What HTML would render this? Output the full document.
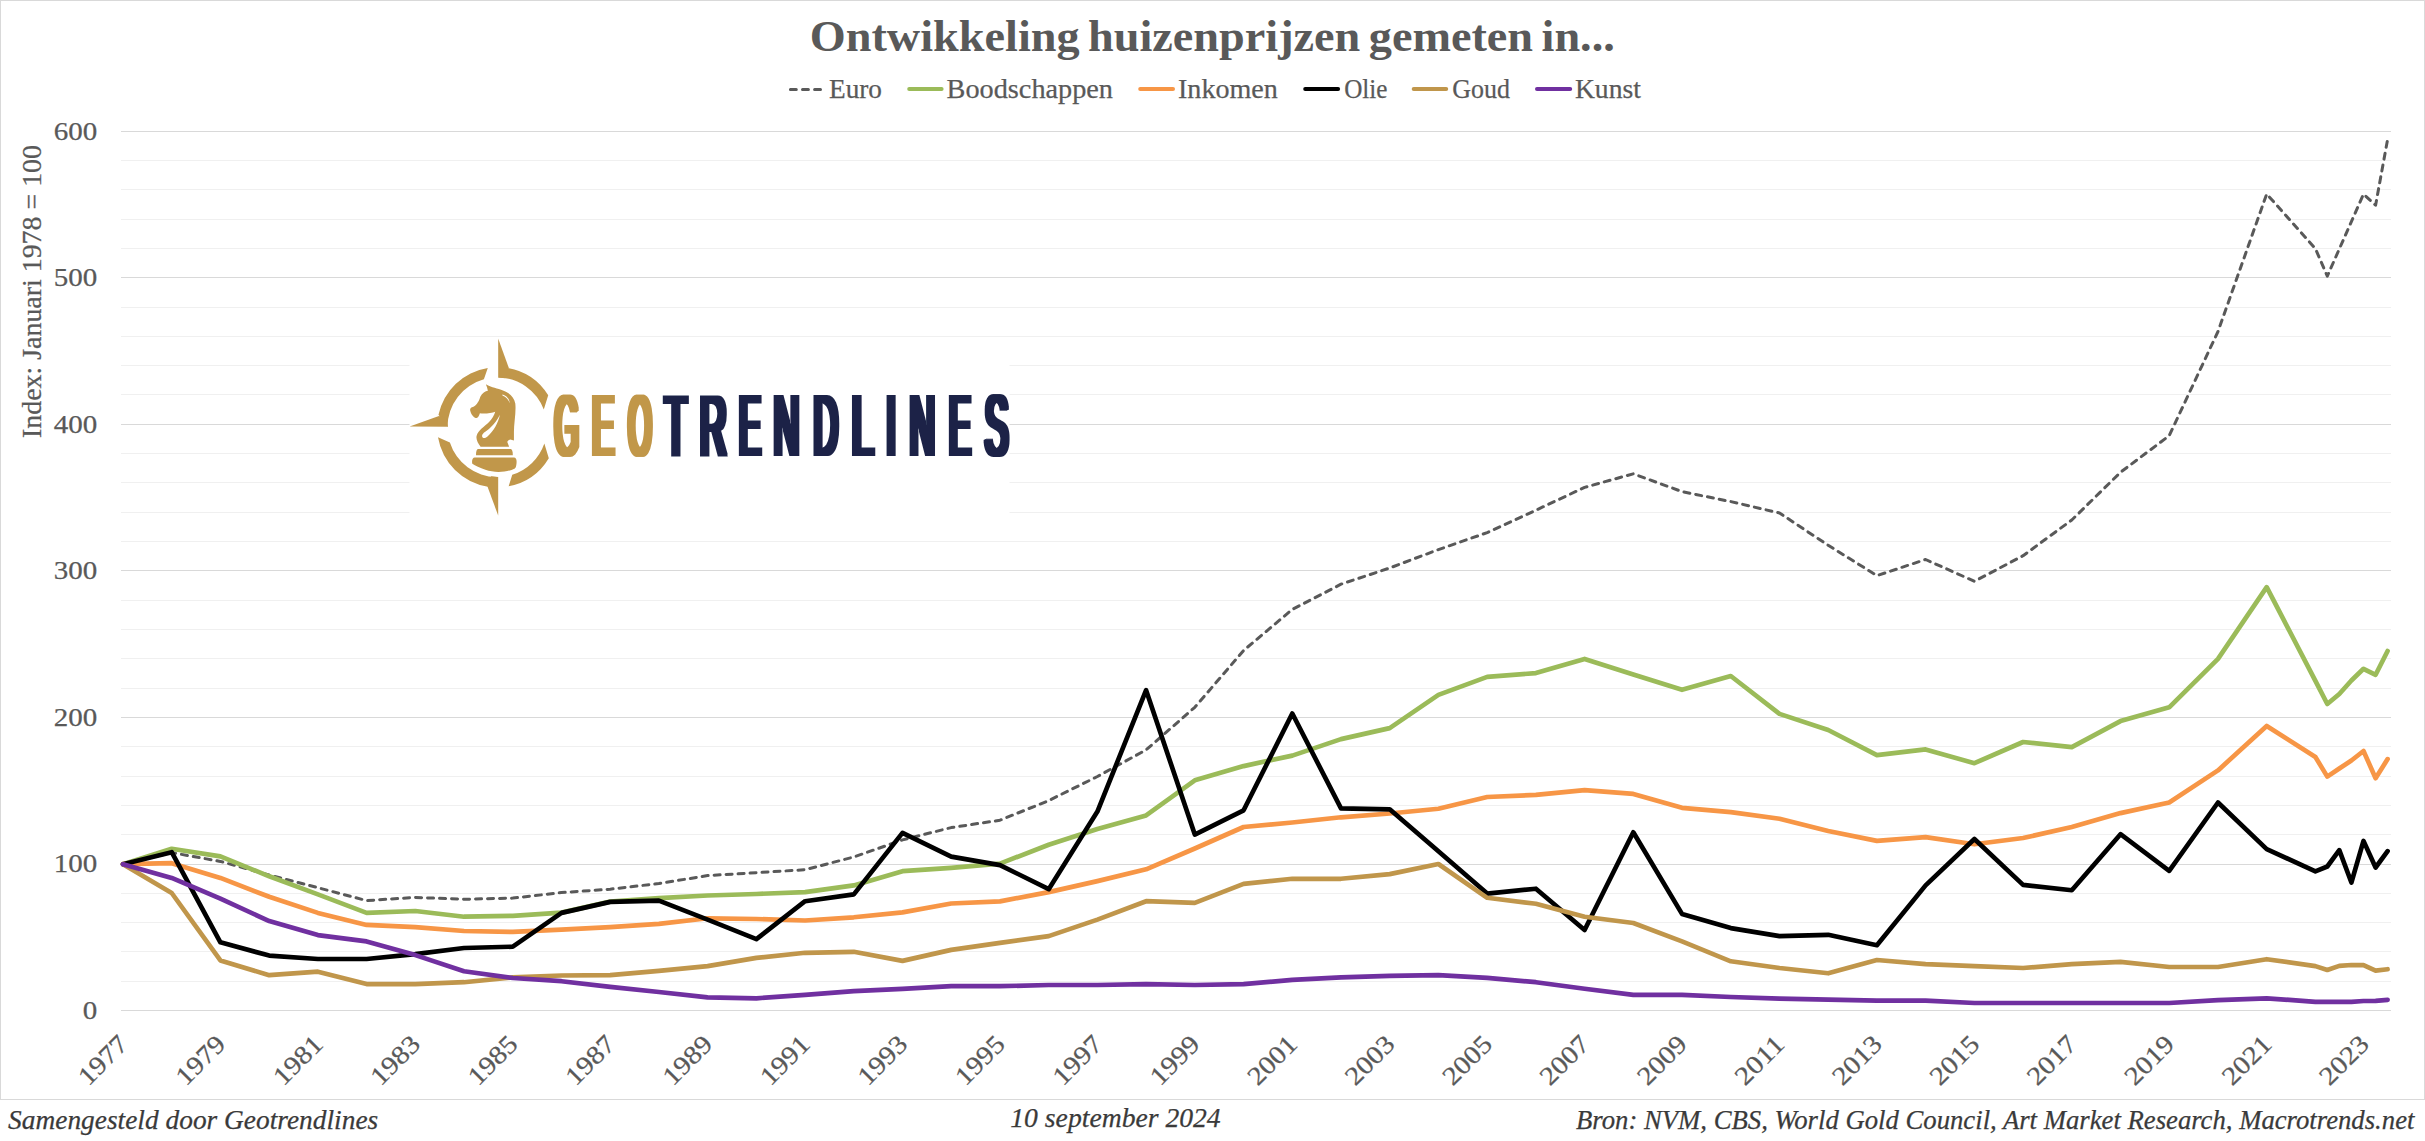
<!DOCTYPE html>
<html lang="nl"><head><meta charset="utf-8"><title>Ontwikkeling huizenprijzen</title>
<style>html,body{margin:0;padding:0;background:#fff}svg{display:block}text{font-family:"Liberation Serif",serif;fill:#595959}.lg,.ax{stroke:#595959;stroke-width:.25px}.ft{stroke:#3A3A3A;stroke-width:.25px}.ln{fill:none;stroke-width:4.67;stroke-linejoin:round;stroke-linecap:round}.ft{font-style:italic;fill:#3A3A3A;font-size:27px}.lg{font-size:27px}.ax{font-size:26px}</style></head><body>
<svg width="2425" height="1141" viewBox="0 0 2425 1141">
<rect x="0" y="0" width="2425" height="1141" fill="#fff"/>
<rect x="0.5" y="0.5" width="2424" height="1099" fill="#fff" stroke="#D9D9D9" stroke-width="1"/>
<g shape-rendering="crispEdges"><line x1="121" x2="2391" y1="1010.5" y2="1010.5" stroke="#D9D9D9" stroke-width="1"/><line x1="121" x2="2391" y1="981.5" y2="981.5" stroke="#F0F0F0" stroke-width="1"/><line x1="121" x2="2391" y1="951.5" y2="951.5" stroke="#F0F0F0" stroke-width="1"/><line x1="121" x2="2391" y1="922.5" y2="922.5" stroke="#F0F0F0" stroke-width="1"/><line x1="121" x2="2391" y1="893.5" y2="893.5" stroke="#F0F0F0" stroke-width="1"/><line x1="121" x2="2391" y1="864.5" y2="864.5" stroke="#D9D9D9" stroke-width="1"/><line x1="121" x2="2391" y1="834.5" y2="834.5" stroke="#F0F0F0" stroke-width="1"/><line x1="121" x2="2391" y1="805.5" y2="805.5" stroke="#F0F0F0" stroke-width="1"/><line x1="121" x2="2391" y1="776.5" y2="776.5" stroke="#F0F0F0" stroke-width="1"/><line x1="121" x2="2391" y1="746.5" y2="746.5" stroke="#F0F0F0" stroke-width="1"/><line x1="121" x2="2391" y1="717.5" y2="717.5" stroke="#D9D9D9" stroke-width="1"/><line x1="121" x2="2391" y1="688.5" y2="688.5" stroke="#F0F0F0" stroke-width="1"/><line x1="121" x2="2391" y1="658.5" y2="658.5" stroke="#F0F0F0" stroke-width="1"/><line x1="121" x2="2391" y1="629.5" y2="629.5" stroke="#F0F0F0" stroke-width="1"/><line x1="121" x2="2391" y1="600.5" y2="600.5" stroke="#F0F0F0" stroke-width="1"/><line x1="121" x2="2391" y1="570.5" y2="570.5" stroke="#D9D9D9" stroke-width="1"/><line x1="121" x2="2391" y1="541.5" y2="541.5" stroke="#F0F0F0" stroke-width="1"/><line x1="121" x2="2391" y1="512.5" y2="512.5" stroke="#F0F0F0" stroke-width="1"/><line x1="121" x2="2391" y1="482.5" y2="482.5" stroke="#F0F0F0" stroke-width="1"/><line x1="121" x2="2391" y1="453.5" y2="453.5" stroke="#F0F0F0" stroke-width="1"/><line x1="121" x2="2391" y1="424.5" y2="424.5" stroke="#D9D9D9" stroke-width="1"/><line x1="121" x2="2391" y1="394.5" y2="394.5" stroke="#F0F0F0" stroke-width="1"/><line x1="121" x2="2391" y1="365.5" y2="365.5" stroke="#F0F0F0" stroke-width="1"/><line x1="121" x2="2391" y1="336.5" y2="336.5" stroke="#F0F0F0" stroke-width="1"/><line x1="121" x2="2391" y1="307.5" y2="307.5" stroke="#F0F0F0" stroke-width="1"/><line x1="121" x2="2391" y1="277.5" y2="277.5" stroke="#D9D9D9" stroke-width="1"/><line x1="121" x2="2391" y1="248.5" y2="248.5" stroke="#F0F0F0" stroke-width="1"/><line x1="121" x2="2391" y1="219.5" y2="219.5" stroke="#F0F0F0" stroke-width="1"/><line x1="121" x2="2391" y1="189.5" y2="189.5" stroke="#F0F0F0" stroke-width="1"/><line x1="121" x2="2391" y1="160.5" y2="160.5" stroke="#F0F0F0" stroke-width="1"/><line x1="121" x2="2391" y1="131.5" y2="131.5" stroke="#D9D9D9" stroke-width="1"/></g>
<rect x="409.5" y="337.5" width="600" height="200" fill="#fff"/><g transform="translate(400,330) scale(0.17528)" fill="#C1974A"><path d="M219.5,483.7 A343,343 0 0 1 500.8,216.3 L478.6,281.5 A284,284 0 0 0 271.0,552.5 Z"/><path d="M55,550 L222,491 L262,500 L274,552 Z"/><path d="M614.6,217.2 A343,343 0 0 1 845.6,372.7 L820.3,453.7 A284,284 0 0 0 560.0,271.0 Z"/><path d="M560,48 L620,214 L600,275 L560,271 Z"/><path d="M849.0,731.7 A343,343 0 0 1 619.9,891.8 L640.4,825.9 A284,284 0 0 0 823.5,647.5 Z"/><path d="M501.3,893.8 A343,343 0 0 1 216.8,612.2 L284.6,641.8 A284,284 0 0 0 550.0,839.0 Z"/><path d="M560,1058 L498,890 L520,835 L560,839 Z"/></g><g transform="translate(455,375) scale(0.09208)" fill="#C1974A">
<path fill-rule="evenodd" d="M335,100 C370,125 440,140 500,160 C580,185 640,230 655,310 C665,400 640,520 640,620 L640,712 L600,700 C585,705 570,715 568,728 L588,778 L278,778 C250,740 225,700 235,660 C250,600 320,560 370,510 C400,480 425,440 437,398 C400,415 320,420 270,415 C262,440 250,465 235,468 C205,465 175,430 165,385 C160,365 175,350 200,345 C240,325 265,270 275,235 C295,195 330,175 357,170 C352,145 345,120 335,100 Z M488,432 C470,520 420,610 350,670 C320,695 290,685 295,655 C300,630 340,610 380,575 C430,530 465,480 488,432 Z M515,213 C560,225 590,260 597,310 C580,268 555,235 515,222 Z"/>
<path d="M250,805 L605,805 C620,805 628,830 628,872 L228,872 C228,830 235,805 250,805 Z"/>
<path d="M215,897 L640,897 C665,897 672,925 668,960 C665,990 660,1005 650,1015 C560,1060 430,1065 330,1030 C270,1010 220,985 188,965 C180,930 190,897 215,897 Z"/>
</g><!--LOGOTEXT--><defs><filter id="fat" x="-5%" y="-20%" width="110%" height="140%"><feMorphology operator="dilate" radius="2.70 0.64"/></filter></defs><g filter="url(#fat)"><text aria-label="GEOTRENDLINES" y="455.1" style="font-family:'Liberation Sans',sans-serif;font-size:85.35px"><tspan x="554.76" textLength="23.83" lengthAdjust="spacingAndGlyphs" fill="#C1974A">G</tspan><tspan x="592.24" textLength="21.66" lengthAdjust="spacingAndGlyphs" fill="#C1974A">E</tspan><tspan x="628.41" textLength="22.79" lengthAdjust="spacingAndGlyphs" fill="#C1974A">O</tspan><tspan x="665.10" textLength="21.71" lengthAdjust="spacingAndGlyphs" fill="#1B2247">T</tspan><tspan x="699.89" textLength="26.51" lengthAdjust="spacingAndGlyphs" fill="#1B2247">R</tspan><tspan x="739.17" textLength="21.35" lengthAdjust="spacingAndGlyphs" fill="#1B2247">E</tspan><tspan x="773.81" textLength="25.47" lengthAdjust="spacingAndGlyphs" fill="#1B2247">N</tspan><tspan x="813.66" textLength="24.14" lengthAdjust="spacingAndGlyphs" fill="#1B2247">D</tspan><tspan x="851.68" textLength="21.82" lengthAdjust="spacingAndGlyphs" fill="#1B2247">L</tspan><tspan x="886.43" textLength="9.24" lengthAdjust="spacingAndGlyphs" fill="#1B2247">I</tspan><tspan x="909.75" textLength="25.08" lengthAdjust="spacingAndGlyphs" fill="#1B2247">N</tspan><tspan x="949.28" textLength="21.29" lengthAdjust="spacingAndGlyphs" fill="#1B2247">E</tspan><tspan x="984.92" textLength="23.17" lengthAdjust="spacingAndGlyphs" fill="#1B2247">S</tspan></text></g>
<polyline points="123.0,864.2 171.7,852.6 220.4,861.4 269.2,875.0 317.9,887.7 366.6,900.6 415.3,897.4 464.0,899.3 512.8,898.1 561.5,892.6 610.2,889.2 658.9,883.5 707.6,875.6 756.4,872.7 805.1,869.7 853.8,857.0 902.5,839.9 951.2,827.6 1000.0,820.2 1048.7,800.6 1097.4,776.5 1146.1,749.9 1194.8,707.3 1243.6,650.5 1292.3,609.4 1341.0,584.2 1389.7,568.0 1438.4,549.6 1487.2,532.6 1535.9,510.2 1584.6,487.4 1633.3,473.8 1682.0,491.6 1730.8,501.6 1779.5,513.0 1828.2,545.3 1876.9,575.6 1925.6,559.5 1974.4,581.3 2023.1,555.7 2071.8,520.0 2120.5,472.3 2169.2,435.7 2218.0,331.5 2266.7,194.0 2315.4,248.6 2327.3,276.2 2363.5,194.1 2375.6,205.2 2387.6,139.4" fill="none" stroke="#595959" stroke-width="3" stroke-dasharray="6 6" stroke-linecap="round" stroke-linejoin="round"/>
<polyline class="ln" points="123.0,864.2 171.7,848.8 220.4,856.4 269.2,876.3 317.9,894.4 366.6,912.9 415.3,911.0 464.0,916.7 512.8,915.8 561.5,912.6 610.2,901.6 658.9,898.1 707.6,895.5 756.4,894.0 805.1,892.1 853.8,885.4 902.5,871.2 951.2,867.8 1000.0,863.6 1048.7,844.7 1097.4,829.0 1146.1,815.4 1194.8,780.3 1243.6,766.1 1292.3,755.6 1341.0,739.1 1389.7,728.1 1438.4,694.9 1487.2,676.9 1535.9,673.1 1584.6,658.9 1633.3,674.4 1682.0,689.8 1730.8,676.0 1779.5,713.9 1828.2,730.0 1876.9,755.1 1925.6,749.4 1974.4,763.2 2023.1,742.0 2071.8,747.1 2120.5,721.1 2169.2,707.3 2218.0,658.9 2266.7,587.1 2315.4,680.9 2327.3,704.0 2339.3,694.0 2351.4,680.5 2363.5,668.8 2375.6,674.8 2387.6,651.0" stroke="#9BBB59"/>
<polyline class="ln" points="123.0,864.2 171.7,863.2 220.4,877.9 269.2,896.8 317.9,912.9 366.6,924.9 415.3,927.2 464.0,931.0 512.8,931.9 561.5,929.6 610.2,927.2 658.9,923.9 707.6,918.3 756.4,919.0 805.1,920.5 853.8,917.3 902.5,912.4 951.2,903.5 1000.0,901.4 1048.7,892.1 1097.4,881.1 1146.1,869.3 1194.8,848.5 1243.6,827.0 1292.3,822.5 1341.0,817.3 1389.7,813.5 1438.4,808.7 1487.2,797.0 1535.9,794.9 1584.6,790.1 1633.3,793.9 1682.0,807.8 1730.8,812.1 1779.5,818.8 1828.2,831.0 1876.9,840.9 1925.6,837.1 1974.4,844.3 2023.1,838.0 2071.8,827.0 2120.5,813.1 2169.2,802.5 2218.0,770.4 2266.7,726.0 2315.4,757.0 2327.3,776.6 2339.3,768.5 2351.4,760.5 2363.5,751.0 2375.6,778.2 2387.6,759.1" stroke="#F79646"/>
<polyline class="ln" points="123.0,864.2 171.7,852.2 220.4,942.3 269.2,955.6 317.9,959.0 366.6,959.0 415.3,954.1 464.0,948.0 512.8,946.7 561.5,912.9 610.2,901.9 658.9,900.6 707.6,919.6 756.4,939.1 805.1,901.2 853.8,894.4 902.5,832.9 951.2,856.6 1000.0,865.1 1048.7,889.2 1097.4,811.6 1146.1,690.2 1194.8,834.6 1243.6,810.3 1292.3,713.5 1341.0,808.4 1389.7,809.3 1438.4,851.3 1487.2,893.6 1535.9,888.7 1584.6,930.0 1633.3,832.3 1682.0,913.9 1730.8,928.1 1779.5,936.1 1828.2,934.8 1876.9,945.2 1925.6,885.4 1974.4,839.0 2023.1,884.9 2071.8,890.2 2120.5,834.2 2169.2,870.8 2218.0,802.5 2266.7,849.1 2315.4,871.3 2327.3,866.5 2339.3,850.1 2351.4,882.5 2363.5,840.9 2375.6,867.5 2387.6,851.1" stroke="#000000"/>
<polyline class="ln" points="123.0,864.2 171.7,893.0 220.4,960.4 269.2,975.2 317.9,971.7 366.6,984.1 415.3,984.1 464.0,982.2 512.8,977.4 561.5,975.5 610.2,975.2 658.9,970.8 707.6,966.1 756.4,957.9 805.1,952.8 853.8,951.8 902.5,960.9 951.2,949.9 1000.0,942.9 1048.7,936.1 1097.4,919.6 1146.1,901.2 1194.8,902.9 1243.6,883.9 1292.3,878.8 1341.0,878.8 1389.7,874.1 1438.4,864.0 1487.2,897.8 1535.9,903.8 1584.6,916.7 1633.3,923.0 1682.0,941.4 1730.8,961.3 1779.5,968.0 1828.2,973.3 1876.9,960.0 1925.6,964.2 1974.4,966.1 2023.1,968.0 2071.8,964.2 2120.5,961.9 2169.2,967.0 2218.0,967.0 2266.7,959.2 2315.4,966.1 2327.3,970.0 2339.3,965.9 2351.4,965.0 2363.5,965.1 2375.6,970.6 2387.6,969.2" stroke="#C0964B"/>
<polyline class="ln" points="123.0,864.2 171.7,877.9 220.4,898.7 269.2,921.1 317.9,935.1 366.6,941.4 415.3,955.1 464.0,971.2 512.8,978.0 561.5,981.2 610.2,986.9 658.9,992.0 707.6,997.4 756.4,998.3 805.1,994.9 853.8,991.1 902.5,988.8 951.2,986.2 1000.0,986.2 1048.7,985.0 1097.4,985.0 1146.1,984.1 1194.8,985.0 1243.6,984.1 1292.3,979.9 1341.0,977.4 1389.7,975.9 1438.4,975.2 1487.2,977.8 1535.9,982.2 1584.6,988.8 1633.3,994.9 1682.0,994.9 1730.8,997.0 1779.5,998.7 1828.2,999.6 1876.9,1000.6 1925.6,1000.6 1974.4,1003.0 2023.1,1003.0 2071.8,1003.0 2120.5,1003.0 2169.2,1003.0 2218.0,1000.2 2266.7,998.3 2315.4,1001.8 2327.3,1001.8 2339.3,1001.8 2351.4,1001.8 2363.5,1001.0 2375.6,1000.8 2387.6,999.8" stroke="#7030A0"/>
<text x="809.8" y="51.2" font-size="45" font-weight="bold" word-spacing="-3" textLength="805" lengthAdjust="spacingAndGlyphs">Ontwikkeling huizenprijzen gemeten in...</text>
<line x1="790.4" x2="821.5" y1="89.5" y2="89.5" stroke="#595959" stroke-width="3" stroke-dasharray="5.9 6.2" stroke-linecap="round"/>
<text class="lg" x="829.0" y="98.1" textLength="53.0" lengthAdjust="spacingAndGlyphs">Euro</text>
<line x1="909.2" x2="941.6" y1="89" y2="89" stroke="#9BBB59" stroke-width="4" stroke-linecap="round"/>
<text class="lg" x="946.6" y="98.1" textLength="166.4" lengthAdjust="spacingAndGlyphs">Boodschappen</text>
<line x1="1140.2" x2="1173.0" y1="89" y2="89" stroke="#F79646" stroke-width="4" stroke-linecap="round"/>
<text class="lg" x="1178.0" y="98.1" textLength="99.8" lengthAdjust="spacingAndGlyphs">Inkomen</text>
<line x1="1305.2" x2="1338.1" y1="89" y2="89" stroke="#000000" stroke-width="4" stroke-linecap="round"/>
<text class="lg" x="1344.2" y="98.1" textLength="43.3" lengthAdjust="spacingAndGlyphs">Olie</text>
<line x1="1413.7" x2="1446.2" y1="89" y2="89" stroke="#C0964B" stroke-width="4" stroke-linecap="round"/>
<text class="lg" x="1452.3" y="98.1" textLength="57.7" lengthAdjust="spacingAndGlyphs">Goud</text>
<line x1="1537.0" x2="1570.2" y1="89" y2="89" stroke="#7030A0" stroke-width="4" stroke-linecap="round"/>
<text class="lg" x="1574.9" y="98.1" textLength="66.0" lengthAdjust="spacingAndGlyphs">Kunst</text>
<text class="ax" x="82.8" y="1018.6" textLength="14.5" lengthAdjust="spacingAndGlyphs">0</text>
<text class="ax" x="53.8" y="872.1" textLength="43.5" lengthAdjust="spacingAndGlyphs">100</text>
<text class="ax" x="53.8" y="725.6" textLength="43.5" lengthAdjust="spacingAndGlyphs">200</text>
<text class="ax" x="53.8" y="579.1" textLength="43.5" lengthAdjust="spacingAndGlyphs">300</text>
<text class="ax" x="53.8" y="432.6" textLength="43.5" lengthAdjust="spacingAndGlyphs">400</text>
<text class="ax" x="53.8" y="286.1" textLength="43.5" lengthAdjust="spacingAndGlyphs">500</text>
<text class="ax" x="53.8" y="139.6" textLength="43.5" lengthAdjust="spacingAndGlyphs">600</text>
<text class="lg" transform="translate(41.2,438) rotate(-90)" textLength="293" lengthAdjust="spacingAndGlyphs">Index: Januari 1978 = 100</text>
<text class="ax" text-anchor="end" transform="translate(129.5,1045.7) rotate(-45)" textLength="58" lengthAdjust="spacingAndGlyphs">1977</text>
<text class="ax" text-anchor="end" transform="translate(226.9,1045.7) rotate(-45)" textLength="58" lengthAdjust="spacingAndGlyphs">1979</text>
<text class="ax" text-anchor="end" transform="translate(324.4,1045.7) rotate(-45)" textLength="58" lengthAdjust="spacingAndGlyphs">1981</text>
<text class="ax" text-anchor="end" transform="translate(421.8,1045.7) rotate(-45)" textLength="58" lengthAdjust="spacingAndGlyphs">1983</text>
<text class="ax" text-anchor="end" transform="translate(519.3,1045.7) rotate(-45)" textLength="58" lengthAdjust="spacingAndGlyphs">1985</text>
<text class="ax" text-anchor="end" transform="translate(616.7,1045.7) rotate(-45)" textLength="58" lengthAdjust="spacingAndGlyphs">1987</text>
<text class="ax" text-anchor="end" transform="translate(714.1,1045.7) rotate(-45)" textLength="58" lengthAdjust="spacingAndGlyphs">1989</text>
<text class="ax" text-anchor="end" transform="translate(811.6,1045.7) rotate(-45)" textLength="58" lengthAdjust="spacingAndGlyphs">1991</text>
<text class="ax" text-anchor="end" transform="translate(909.0,1045.7) rotate(-45)" textLength="58" lengthAdjust="spacingAndGlyphs">1993</text>
<text class="ax" text-anchor="end" transform="translate(1006.5,1045.7) rotate(-45)" textLength="58" lengthAdjust="spacingAndGlyphs">1995</text>
<text class="ax" text-anchor="end" transform="translate(1103.9,1045.7) rotate(-45)" textLength="58" lengthAdjust="spacingAndGlyphs">1997</text>
<text class="ax" text-anchor="end" transform="translate(1201.3,1045.7) rotate(-45)" textLength="58" lengthAdjust="spacingAndGlyphs">1999</text>
<text class="ax" text-anchor="end" transform="translate(1298.8,1045.7) rotate(-45)" textLength="58" lengthAdjust="spacingAndGlyphs">2001</text>
<text class="ax" text-anchor="end" transform="translate(1396.2,1045.7) rotate(-45)" textLength="58" lengthAdjust="spacingAndGlyphs">2003</text>
<text class="ax" text-anchor="end" transform="translate(1493.7,1045.7) rotate(-45)" textLength="58" lengthAdjust="spacingAndGlyphs">2005</text>
<text class="ax" text-anchor="end" transform="translate(1591.1,1045.7) rotate(-45)" textLength="58" lengthAdjust="spacingAndGlyphs">2007</text>
<text class="ax" text-anchor="end" transform="translate(1688.5,1045.7) rotate(-45)" textLength="58" lengthAdjust="spacingAndGlyphs">2009</text>
<text class="ax" text-anchor="end" transform="translate(1786.0,1045.7) rotate(-45)" textLength="58" lengthAdjust="spacingAndGlyphs">2011</text>
<text class="ax" text-anchor="end" transform="translate(1883.4,1045.7) rotate(-45)" textLength="58" lengthAdjust="spacingAndGlyphs">2013</text>
<text class="ax" text-anchor="end" transform="translate(1980.9,1045.7) rotate(-45)" textLength="58" lengthAdjust="spacingAndGlyphs">2015</text>
<text class="ax" text-anchor="end" transform="translate(2078.3,1045.7) rotate(-45)" textLength="58" lengthAdjust="spacingAndGlyphs">2017</text>
<text class="ax" text-anchor="end" transform="translate(2175.7,1045.7) rotate(-45)" textLength="58" lengthAdjust="spacingAndGlyphs">2019</text>
<text class="ax" text-anchor="end" transform="translate(2273.2,1045.7) rotate(-45)" textLength="58" lengthAdjust="spacingAndGlyphs">2021</text>
<text class="ax" text-anchor="end" transform="translate(2370.6,1045.7) rotate(-45)" textLength="58" lengthAdjust="spacingAndGlyphs">2023</text>
<text class="ft" x="8.1" y="1129" textLength="370.1" lengthAdjust="spacingAndGlyphs">Samengesteld door Geotrendlines</text>
<text class="ft" x="1010.3" y="1127" textLength="210.4" lengthAdjust="spacingAndGlyphs">10 september 2024</text>
<text class="ft" x="1576" y="1129.2" textLength="838.4" lengthAdjust="spacingAndGlyphs">Bron: NVM, CBS, World Gold Council, Art Market Research, Macrotrends.net</text>
</svg></body></html>
